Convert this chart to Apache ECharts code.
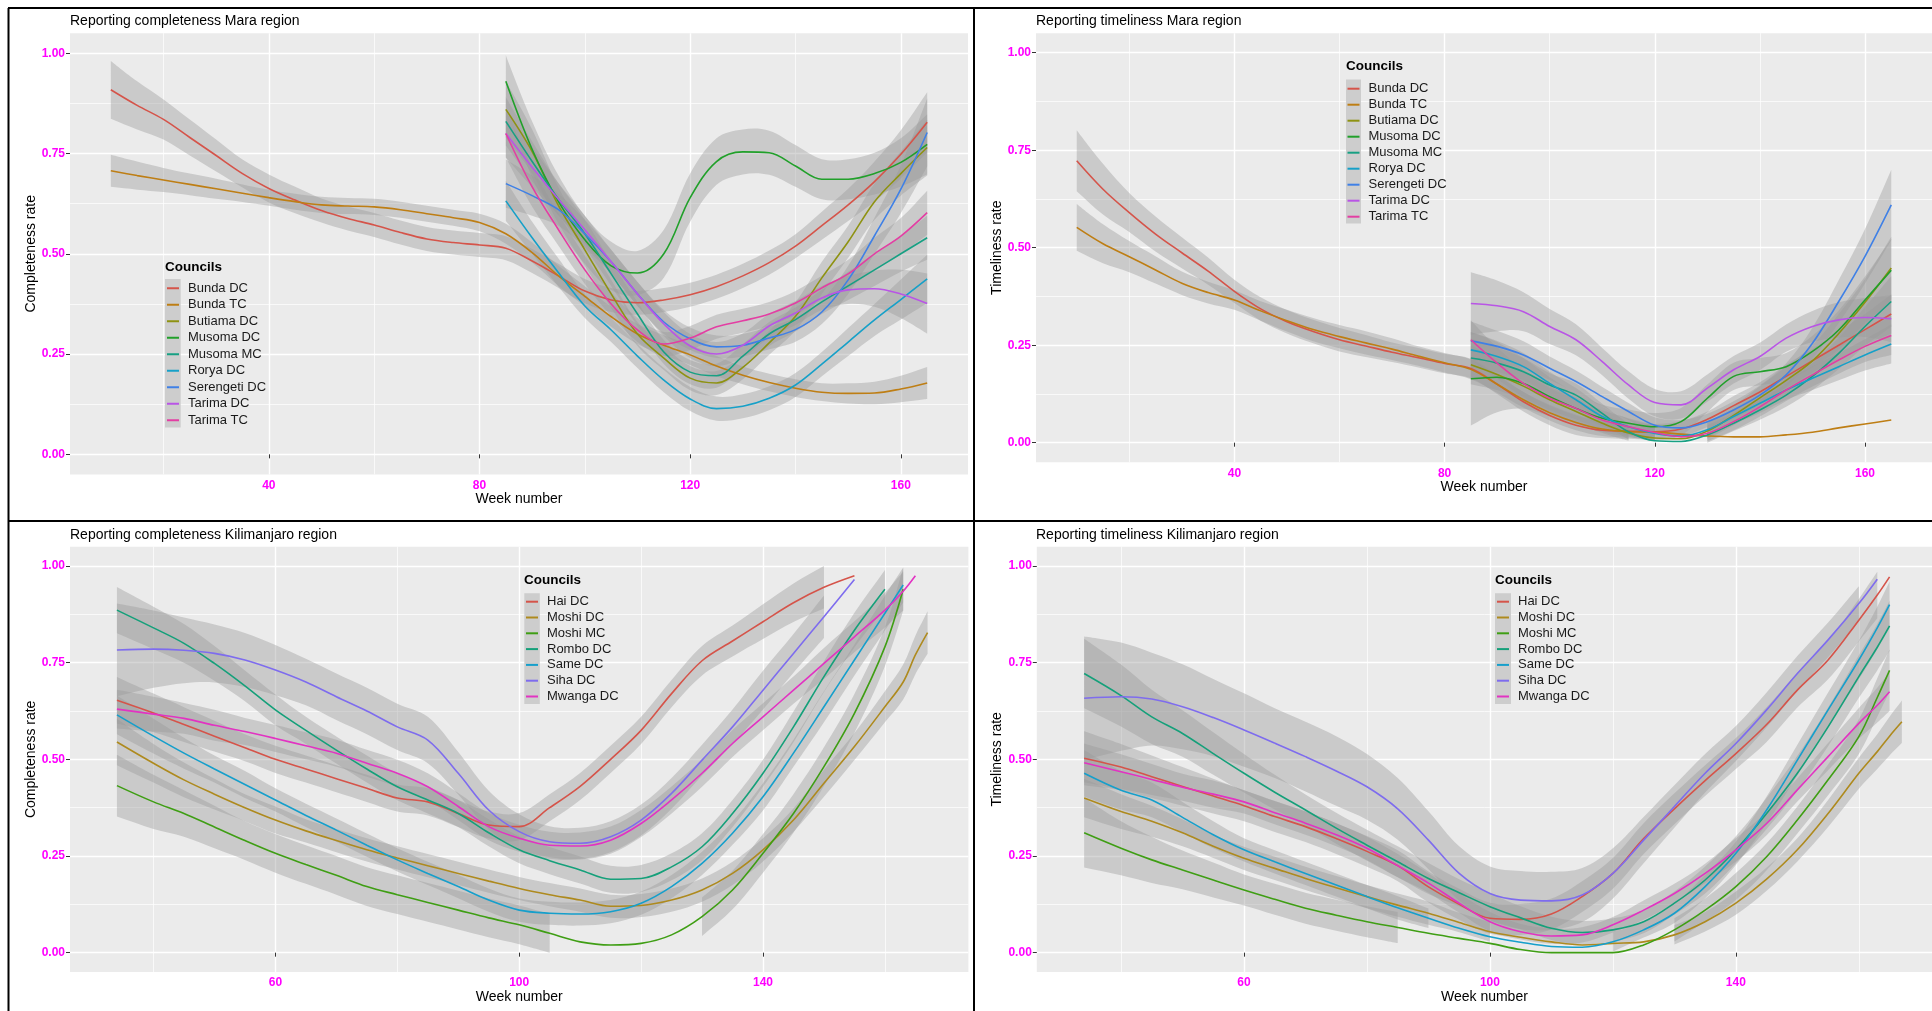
<!DOCTYPE html>
<html>
<head>
<meta charset="utf-8">
<title>Reporting completeness and timeliness</title>
<script src="https://cdn.jsdelivr.net/npm/echarts@6.0.0/dist/echarts.min.js"></script>
<style>
  html, body { margin: 0; padding: 0; background: #fff; }
  #chart { width: 1932px; height: 1011px; }
</style>
</head>
<body>
<div id="chart"></div>
<script>
// councils and colours
var maraCouncils = ['Bunda DC', 'Bunda TC', 'Butiama DC', 'Musoma DC', 'Musoma MC', 'Rorya DC', 'Serengeti DC', 'Tarima DC', 'Tarima TC'];
var kiliCouncils = ['Hai DC', 'Moshi DC', 'Moshi MC', 'Rombo DC', 'Same DC', 'Siha DC', 'Mwanga DC'];
var maraColors = ['#D5544A', '#BE7E14', '#8E9212', '#21A02A', '#17A083', '#16A0C8', '#3F80E6', '#B955E6', '#E33EA3'];
var kiliColors = ['#D5544A', '#AE8A1E', '#3F9E14', '#15A07A', '#169FCB', '#7E6CEE', '#E233C2'];

// week numbers
var maraWeeks = [10, 15, 20, 25, 30, 35, 40, 45, 50, 55, 60, 65, 70, 75, 80, 85, 90, 95, 100, 105, 110, 115, 120, 125, 130, 135, 140, 145, 150, 155, 160, 165];
var maraStart = [10, 10, 85, 85, 85, 85, 85, 85, 85];
var kiliWeeks = [34, 40, 45, 50, 55, 60, 65, 70, 75, 80, 85, 90, 95, 100, 105, 110, 115, 120, 125, 130, 135, 140, 145, 150, 155, 160, 163, 165, 167];
var kiliStart = [34, 34, 34, 34, 34, 34, 34];

// tick labels
var rateTicks = [0, 0.25, 0.5, 0.75, 1];
var rateMinor = [0.125, 0.375, 0.625, 0.875];
var maraWeekTicks = [40, 80, 120, 160];
var maraWeekMinor = [20, 60, 100, 140];
var kiliWeekTicks = [60, 100, 140];
var kiliWeekMinor = [40, 80, 120, 160];

// smoothed rates (one row per council) and half width of the grey band
var maraCompRate = [
  [0.909, 0.87, 0.835, 0.79, 0.745, 0.70, 0.663, 0.634, 0.608, 0.588, 0.572, 0.553, 0.537, 0.528, 0.522, 0.514, 0.482, 0.445, 0.407, 0.385, 0.378, 0.385, 0.398, 0.418, 0.445, 0.478, 0.519, 0.57, 0.622, 0.68, 0.748, 0.828],
  [0.707, 0.695, 0.684, 0.673, 0.662, 0.651, 0.64, 0.63, 0.622, 0.619, 0.617, 0.61, 0.60, 0.59, 0.578, 0.55, 0.503, 0.445, 0.394, 0.343, 0.30, 0.272, 0.248, 0.22, 0.197, 0.179, 0.165, 0.155, 0.152, 0.153, 0.163, 0.178],
  [0.86, 0.755, 0.62, 0.51, 0.40, 0.30, 0.24, 0.19, 0.178, 0.217, 0.278, 0.344, 0.44, 0.53, 0.63, 0.70, 0.765],
  [0.93, 0.76, 0.63, 0.535, 0.47, 0.452, 0.50, 0.64, 0.73, 0.754, 0.752, 0.719, 0.686, 0.686, 0.70, 0.728, 0.773],
  [0.83, 0.73, 0.636, 0.55, 0.45, 0.35, 0.255, 0.205, 0.196, 0.245, 0.30, 0.336, 0.38, 0.42, 0.46, 0.50, 0.54],
  [0.632, 0.54, 0.453, 0.37, 0.31, 0.245, 0.185, 0.138, 0.114, 0.12, 0.14, 0.173, 0.225, 0.28, 0.335, 0.386, 0.4375],
  [0.675, 0.645, 0.61, 0.55, 0.48, 0.40, 0.33, 0.288, 0.268, 0.272, 0.29, 0.311, 0.355, 0.435, 0.545, 0.661, 0.8025],
  [0.80, 0.716, 0.636, 0.56, 0.48, 0.40, 0.325, 0.27, 0.25, 0.272, 0.32, 0.3525, 0.39, 0.41, 0.413, 0.40, 0.376],
  [0.80, 0.667, 0.56, 0.46, 0.375, 0.31, 0.275, 0.29, 0.318, 0.333, 0.35, 0.3775, 0.415, 0.45, 0.50, 0.544, 0.6025]
];
var maraCompBand = [
  [0.072, 0.06, 0.05, 0.045, 0.04, 0.035, 0.035, 0.033, 0.03, 0.03, 0.03, 0.03, 0.03, 0.03, 0.03, 0.03, 0.03, 0.03, 0.03, 0.03, 0.03, 0.03, 0.03, 0.03, 0.03, 0.03, 0.03, 0.035, 0.04, 0.05, 0.06, 0.075],
  [0.04, 0.035, 0.03, 0.027, 0.025, 0.022, 0.02, 0.02, 0.02, 0.02, 0.02, 0.02, 0.02, 0.02, 0.022, 0.025, 0.025, 0.025, 0.025, 0.025, 0.025, 0.025, 0.025, 0.025, 0.022, 0.022, 0.022, 0.022, 0.025, 0.028, 0.033, 0.04],
  [0.07, 0.055, 0.045, 0.04, 0.035, 0.03, 0.03, 0.03, 0.03, 0.03, 0.03, 0.035, 0.04, 0.04, 0.045, 0.055, 0.07],
  [0.065, 0.07, 0.065, 0.06, 0.06, 0.055, 0.06, 0.06, 0.058, 0.056, 0.055, 0.052, 0.05, 0.05, 0.052, 0.06, 0.075],
  [0.06, 0.05, 0.04, 0.035, 0.03, 0.03, 0.03, 0.03, 0.03, 0.03, 0.03, 0.03, 0.03, 0.035, 0.04, 0.045, 0.055],
  [0.05, 0.04, 0.035, 0.03, 0.03, 0.03, 0.03, 0.03, 0.03, 0.03, 0.03, 0.03, 0.03, 0.035, 0.04, 0.05, 0.06],
  [0.06, 0.05, 0.04, 0.035, 0.03, 0.03, 0.03, 0.028, 0.028, 0.028, 0.028, 0.03, 0.03, 0.035, 0.045, 0.06, 0.085],
  [0.06, 0.05, 0.04, 0.035, 0.03, 0.03, 0.03, 0.03, 0.03, 0.03, 0.03, 0.03, 0.03, 0.035, 0.045, 0.06, 0.075],
  [0.06, 0.05, 0.04, 0.035, 0.03, 0.03, 0.03, 0.03, 0.03, 0.03, 0.03, 0.03, 0.03, 0.035, 0.04, 0.045, 0.055]
];
var maraTimeRate = [
  [0.723, 0.65, 0.59, 0.535, 0.487, 0.44, 0.388, 0.343, 0.31, 0.285, 0.264, 0.248, 0.232, 0.218, 0.203, 0.19, 0.15, 0.105, 0.07, 0.045, 0.032, 0.03, 0.028, 0.035, 0.06, 0.095, 0.13, 0.17, 0.21, 0.25, 0.29, 0.33],
  [0.552, 0.51, 0.477, 0.443, 0.409, 0.385, 0.366, 0.338, 0.313, 0.29, 0.272, 0.256, 0.24, 0.222, 0.205, 0.188, 0.15, 0.11, 0.077, 0.052, 0.035, 0.028, 0.027, 0.022, 0.017, 0.015, 0.015, 0.02, 0.027, 0.038, 0.048, 0.058],
  [0.2, 0.175, 0.145, 0.11, 0.08, 0.05, 0.025, 0.012, 0.01, 0.03, 0.07, 0.115, 0.16, 0.21, 0.28, 0.36, 0.448],
  [0.164, 0.168, 0.152, 0.118, 0.088, 0.0625, 0.05, 0.041, 0.054, 0.114, 0.17, 0.182, 0.195, 0.234, 0.289, 0.366, 0.442],
  [0.217, 0.204, 0.182, 0.148, 0.122, 0.075, 0.028, 0.005, 0.003, 0.02, 0.05, 0.084, 0.122, 0.17, 0.229, 0.298, 0.362],
  [0.238, 0.221, 0.195, 0.152, 0.11, 0.067, 0.041, 0.024, 0.017, 0.033, 0.067, 0.101, 0.135, 0.165, 0.195, 0.225, 0.253],
  [0.261, 0.247, 0.225, 0.191, 0.157, 0.118, 0.08, 0.045, 0.038, 0.054, 0.084, 0.122, 0.174, 0.255, 0.362, 0.478, 0.61],
  [0.357, 0.351, 0.336, 0.298, 0.264, 0.208, 0.148, 0.103, 0.097, 0.14, 0.187, 0.221, 0.268, 0.298, 0.315, 0.321, 0.318],
  [0.264, 0.204, 0.152, 0.114, 0.088, 0.058, 0.041, 0.026, 0.015, 0.024, 0.054, 0.092, 0.135, 0.174, 0.212, 0.247, 0.275]
];
var maraTimeBand = [
  [0.078, 0.065, 0.05, 0.045, 0.04, 0.035, 0.03, 0.03, 0.03, 0.03, 0.03, 0.028, 0.025, 0.025, 0.025, 0.025, 0.025, 0.025, 0.025, 0.025, 0.02, 0.02, 0.02, 0.02, 0.02, 0.025, 0.025, 0.03, 0.03, 0.035, 0.04, 0.05],
  [0.06, 0.05, 0.04, 0.035, 0.03, 0.028, 0.025, 0.025, 0.028, 0.03, 0.03, 0.03, 0.028, 0.025, 0.025, 0.025, 0.022, 0.02, 0.02, 0.02, 0.018, 0.015, 0.015, 0.025, 0.02, 0.02, 0.02, 0.025, 0.03, 0.04, 0.05, 0.06],
  [0.05, 0.04, 0.035, 0.03, 0.03, 0.025, 0.02, 0.015, 0.015, 0.02, 0.025, 0.03, 0.035, 0.04, 0.05, 0.06, 0.08],
  [0.12, 0.09, 0.065, 0.05, 0.04, 0.035, 0.035, 0.035, 0.035, 0.035, 0.035, 0.035, 0.035, 0.04, 0.05, 0.06, 0.08],
  [0.05, 0.04, 0.035, 0.03, 0.03, 0.025, 0.02, 0.02, 0.02, 0.02, 0.02, 0.025, 0.03, 0.035, 0.04, 0.05, 0.065],
  [0.045, 0.04, 0.035, 0.03, 0.03, 0.025, 0.02, 0.02, 0.02, 0.02, 0.02, 0.025, 0.025, 0.03, 0.035, 0.04, 0.05],
  [0.05, 0.04, 0.035, 0.03, 0.028, 0.025, 0.022, 0.02, 0.02, 0.02, 0.022, 0.025, 0.03, 0.04, 0.055, 0.07, 0.09],
  [0.08, 0.065, 0.05, 0.045, 0.04, 0.035, 0.035, 0.035, 0.035, 0.035, 0.035, 0.035, 0.035, 0.04, 0.045, 0.05, 0.06],
  [0.05, 0.04, 0.035, 0.03, 0.028, 0.025, 0.022, 0.02, 0.02, 0.02, 0.022, 0.025, 0.028, 0.03, 0.035, 0.04, 0.05]
];
var kiliCompRate = [
  [0.653, 0.62, 0.59, 0.56, 0.53, 0.50, 0.475, 0.45, 0.425, 0.40, 0.39, 0.36, 0.33, 0.326, 0.375, 0.43, 0.50, 0.575, 0.67, 0.755, 0.806, 0.856, 0.905, 0.945, 0.975],
  [0.545, 0.49, 0.447, 0.41, 0.375, 0.343, 0.315, 0.29, 0.266, 0.245, 0.225, 0.205, 0.185, 0.166, 0.15, 0.136, 0.12, 0.122, 0.136, 0.162, 0.205, 0.266, 0.343, 0.438, 0.533, 0.636, 0.70, 0.77, 0.828],
  [0.432, 0.39, 0.36, 0.325, 0.29, 0.257, 0.228, 0.2, 0.171, 0.15, 0.13, 0.11, 0.09, 0.072, 0.05, 0.028, 0.02, 0.024, 0.046, 0.093, 0.162, 0.257, 0.36, 0.481, 0.619, 0.791, 0.94],
  [0.886, 0.84, 0.80, 0.748, 0.69, 0.628, 0.575, 0.524, 0.475, 0.429, 0.395, 0.36, 0.31, 0.266, 0.238, 0.214, 0.19, 0.192, 0.222, 0.274, 0.36, 0.464, 0.584, 0.714, 0.834, 0.94],
  [0.615, 0.56, 0.516, 0.475, 0.435, 0.395, 0.355, 0.317, 0.278, 0.24, 0.205, 0.171, 0.136, 0.11, 0.102, 0.10, 0.106, 0.128, 0.171, 0.231, 0.309, 0.403, 0.516, 0.636, 0.757, 0.878, 0.951],
  [0.783, 0.785, 0.782, 0.774, 0.757, 0.731, 0.70, 0.662, 0.625, 0.584, 0.55, 0.464, 0.369, 0.313, 0.287, 0.283, 0.30, 0.343, 0.412, 0.498, 0.584, 0.679, 0.774, 0.869, 0.965],
  [0.63, 0.617, 0.606, 0.588, 0.572, 0.554, 0.535, 0.516, 0.49, 0.464, 0.429, 0.378, 0.326, 0.296, 0.278, 0.276, 0.291, 0.334, 0.395, 0.464, 0.541, 0.61, 0.679, 0.748, 0.817, 0.886, 0.935, 0.975]
];
var kiliCompBand = [
  [0.06, 0.05, 0.045, 0.04, 0.035, 0.035, 0.035, 0.035, 0.035, 0.035, 0.035, 0.035, 0.035, 0.035, 0.035, 0.035, 0.035, 0.035, 0.035, 0.038, 0.04, 0.045, 0.05, 0.055, 0.06],
  [0.06, 0.05, 0.045, 0.04, 0.035, 0.035, 0.03, 0.03, 0.03, 0.03, 0.03, 0.03, 0.03, 0.03, 0.03, 0.03, 0.03, 0.03, 0.03, 0.03, 0.03, 0.03, 0.03, 0.035, 0.035, 0.04, 0.045, 0.05, 0.055],
  [0.08, 0.07, 0.06, 0.055, 0.05, 0.05, 0.05, 0.05, 0.05, 0.05, 0.05, 0.05, 0.05, 0.05, 0.05, 0.05, 0.05, 0.05, 0.05, 0.05, 0.05, 0.05, 0.05, 0.05, 0.05, 0.05, 0.055],
  [0.06, 0.055, 0.05, 0.045, 0.04, 0.04, 0.035, 0.035, 0.035, 0.035, 0.035, 0.035, 0.035, 0.035, 0.035, 0.035, 0.035, 0.035, 0.035, 0.035, 0.035, 0.035, 0.04, 0.04, 0.045, 0.05],
  [0.05, 0.045, 0.04, 0.035, 0.035, 0.03, 0.03, 0.03, 0.03, 0.03, 0.03, 0.03, 0.03, 0.03, 0.03, 0.03, 0.03, 0.03, 0.03, 0.03, 0.03, 0.035, 0.035, 0.04, 0.04, 0.045, 0.045],
  [0.12, 0.1, 0.085, 0.075, 0.07, 0.065, 0.06, 0.06, 0.06, 0.06, 0.06, 0.055, 0.05, 0.045, 0.04, 0.04, 0.04, 0.04, 0.04, 0.04, 0.045, 0.05, 0.05, 0.055, 0.06],
  [0.05, 0.045, 0.04, 0.04, 0.035, 0.035, 0.035, 0.035, 0.035, 0.035, 0.035, 0.035, 0.035, 0.035, 0.035, 0.035, 0.035, 0.035, 0.035, 0.035, 0.035, 0.035, 0.035, 0.04, 0.04, 0.045, 0.05, 0.055]
];
var kiliTimeRate = [
  [0.503, 0.48, 0.455, 0.43, 0.405, 0.38, 0.352, 0.326, 0.295, 0.262, 0.225, 0.17, 0.125, 0.089, 0.086, 0.10, 0.145, 0.205, 0.295, 0.372, 0.445, 0.515, 0.59, 0.679, 0.757, 0.86, 0.925, 0.972],
  [0.40, 0.365, 0.34, 0.31, 0.275, 0.244, 0.218, 0.192, 0.168, 0.145, 0.123, 0.102, 0.078, 0.054, 0.04, 0.028, 0.02, 0.024, 0.028, 0.046, 0.08, 0.128, 0.19, 0.266, 0.36, 0.464, 0.52, 0.56, 0.597],
  [0.31, 0.27, 0.24, 0.214, 0.188, 0.162, 0.138, 0.115, 0.097, 0.08, 0.065, 0.05, 0.037, 0.024, 0.008, 0.0, 0.0, 0.0, 0.02, 0.059, 0.11, 0.171, 0.248, 0.343, 0.447, 0.559, 0.66, 0.73],
  [0.722, 0.665, 0.61, 0.567, 0.515, 0.464, 0.415, 0.369, 0.322, 0.278, 0.235, 0.192, 0.155, 0.119, 0.09, 0.063, 0.052, 0.059, 0.08, 0.128, 0.188, 0.266, 0.36, 0.464, 0.584, 0.714, 0.79, 0.845],
  [0.464, 0.42, 0.395, 0.35, 0.305, 0.266, 0.235, 0.205, 0.175, 0.145, 0.116, 0.089, 0.063, 0.041, 0.027, 0.016, 0.014, 0.028, 0.059, 0.102, 0.171, 0.257, 0.369, 0.498, 0.628, 0.757, 0.84, 0.9],
  [0.658, 0.662, 0.656, 0.636, 0.608, 0.576, 0.542, 0.507, 0.47, 0.429, 0.372, 0.291, 0.205, 0.153, 0.136, 0.134, 0.149, 0.205, 0.291, 0.378, 0.464, 0.541, 0.628, 0.722, 0.809, 0.903, 0.966],
  [0.491, 0.468, 0.448, 0.428, 0.41, 0.39, 0.362, 0.335, 0.305, 0.27, 0.225, 0.18, 0.128, 0.08, 0.054, 0.043, 0.046, 0.072, 0.11, 0.153, 0.205, 0.266, 0.334, 0.421, 0.507, 0.593, 0.64, 0.675]
];
var kiliTimeBand = [
  [0.07, 0.06, 0.055, 0.05, 0.045, 0.04, 0.04, 0.04, 0.04, 0.04, 0.04, 0.04, 0.04, 0.04, 0.04, 0.04, 0.04, 0.04, 0.04, 0.04, 0.04, 0.04, 0.045, 0.045, 0.05, 0.055, 0.06, 0.065],
  [0.05, 0.045, 0.04, 0.035, 0.03, 0.03, 0.03, 0.03, 0.03, 0.03, 0.03, 0.03, 0.025, 0.025, 0.045, 0.03, 0.025, 0.03, 0.03, 0.025, 0.025, 0.03, 0.03, 0.03, 0.035, 0.04, 0.045, 0.05, 0.055],
  [0.09, 0.07, 0.06, 0.05, 0.045, 0.04, 0.04, 0.04, 0.04, 0.04, 0.04, 0.055, 0.04, 0.03, 0.03, 0.03, 0.03, 0.03, 0.03, 0.03, 0.03, 0.035, 0.035, 0.035, 0.04, 0.045, 0.05, 0.055],
  [0.09, 0.08, 0.07, 0.06, 0.055, 0.05, 0.045, 0.04, 0.04, 0.04, 0.04, 0.04, 0.035, 0.035, 0.03, 0.03, 0.03, 0.03, 0.03, 0.03, 0.035, 0.035, 0.04, 0.045, 0.05, 0.055, 0.06, 0.065],
  [0.06, 0.05, 0.045, 0.04, 0.035, 0.03, 0.03, 0.03, 0.03, 0.03, 0.03, 0.025, 0.065, 0.045, 0.03, 0.02, 0.015, 0.025, 0.02, 0.025, 0.03, 0.03, 0.035, 0.04, 0.045, 0.05, 0.055, 0.06],
  [0.16, 0.14, 0.12, 0.11, 0.1, 0.095, 0.09, 0.09, 0.09, 0.085, 0.08, 0.075, 0.07, 0.07, 0.075, 0.075, 0.07, 0.065, 0.06, 0.055, 0.05, 0.045, 0.045, 0.045, 0.045, 0.045, 0.05],
  [0.05, 0.045, 0.04, 0.035, 0.035, 0.03, 0.03, 0.03, 0.03, 0.03, 0.03, 0.025, 0.025, 0.025, 0.02, 0.02, 0.02, 0.02, 0.025, 0.025, 0.025, 0.03, 0.03, 0.03, 0.035, 0.04, 0.045, 0.05]
];

// panel layout
var panels = [
  { title: 'Reporting completeness Mara region', yName: 'Completeness rate', councils: maraCouncils, colors: maraColors,
    weeks: maraWeeks, start: maraStart, rate: maraCompRate, band: maraCompBand, xTicks: maraWeekTicks, xMinor: maraWeekMinor,
    xRange: [2.25, 172.75], grid: [70, 33.2, 898, 441.2], titleAt: [70, 12.7],
    keyTitleAt: [165, 259.3], legendAt: [167, 280, 16.5], keyBox: [165, 279, 15.7, 148.5] },
  { title: 'Reporting timeliness Mara region', yName: 'Timeliness rate', councils: maraCouncils, colors: maraColors,
    weeks: maraWeeks, start: maraStart, rate: maraTimeRate, band: maraTimeBand, xTicks: maraWeekTicks, xMinor: maraWeekMinor,
    xRange: [2.25, 172.75], grid: [1036, 33.2, 896, 429], titleAt: [1036, 12.7],
    keyTitleAt: [1346, 58.7], legendAt: [1347.5, 80.7, 16], keyBox: [1346, 79.5, 15, 144] },
  { title: 'Reporting completeness Kilimanjaro region', yName: 'Completeness rate', councils: kiliCouncils, colors: kiliColors,
    weeks: kiliWeeks, start: kiliStart, rate: kiliCompRate, band: kiliCompBand, xTicks: kiliWeekTicks, xMinor: kiliWeekMinor,
    xRange: [26.3, 173.7], grid: [70, 546.7, 898.4, 425.3], titleAt: [70, 527],
    keyTitleAt: [524, 572.7], legendAt: [526, 593.8, 15.8], keyBox: [524.3, 593.3, 15.5, 110.6] },
  { title: 'Reporting timeliness Kilimanjaro region', yName: 'Timeliness rate', councils: kiliCouncils, colors: kiliColors,
    weeks: kiliWeeks, start: kiliStart, rate: kiliTimeRate, band: kiliTimeBand, xTicks: kiliWeekTicks, xMinor: kiliWeekMinor,
    xRange: [26.3, 171.9], grid: [1036.8, 546.7, 895.2, 425.3], titleAt: [1036, 527],
    keyTitleAt: [1495, 572.7], legendAt: [1497, 593.8, 15.8], keyBox: [1495, 593.3, 16, 110.6] }
];

var bandFill = 'rgba(153,153,153,0.4)';
var smoothness = 0.35;
var fontFamily = '"Liberation Sans", Arial, sans-serif';

// same bezier rule the line series uses, so band edges follow the lines
function smoothPath(pts, s, cmd) {
  var d = cmd + pts[0][0] + ' ' + pts[0][1];
  var cp0 = pts[0];
  for (var i = 1; i < pts.length; i++) {
    var prev = pts[i - 1], cur = pts[i], next = pts[i + 1] || cur;
    var vx = next[0] - prev[0], vy = next[1] - prev[1];
    var d0 = Math.hypot(cur[0] - prev[0], cur[1] - prev[1]);
    var d1 = Math.hypot(next[0] - cur[0], next[1] - cur[1]);
    var r = d0 + d1 > 0 ? d1 / (d0 + d1) : 0;
    var cp1 = [cur[0] - vx * s * (1 - r), cur[1] - vy * s * (1 - r)];
    d += ' C' + cp0[0] + ' ' + cp0[1] + ' ' + cp1[0] + ' ' + cp1[1] + ' ' + cur[0] + ' ' + cur[1];
    cp0 = [cur[0] + vx * s * r, cur[1] + vy * s * r];
  }
  return d;
}

function bandRenderer(rows) {
  // rows: [week, low, high]; points outside 0..1 are dropped, which cuts the band
  var runs = [], run = [];
  rows.forEach(function (q) {
    if (q[1] >= -1e-9 && q[2] <= 1 + 1e-9) {
      run.push(q);
    } else {
      if (run.length) runs.push(run);
      run = [];
    }
  });
  if (run.length) runs.push(run);
  return function (params, api) {
    if (params.dataIndex !== 0) return null;
    var children = [];
    runs.forEach(function (r) {
      if (r.length < 2) return;
      var up = r.map(function (q) { return api.coord([q[0], q[2]]); });
      var low = r.map(function (q) { return api.coord([q[0], q[1]]); }).reverse();
      children.push({
        type: 'path',
        shape: { pathData: smoothPath(up, smoothness, 'M') + ' ' + smoothPath(low, smoothness, 'L') + ' Z' },
        style: { fill: bandFill, stroke: null }
      });
    });
    return { type: 'group', children: children };
  };
}

var grids = [], xAxes = [], yAxes = [], series = [], titles = [], legends = [], graphics = [];

panels.forEach(function (p, gi) {
  grids.push({
    left: p.grid[0], top: p.grid[1], width: p.grid[2], height: p.grid[3],
    show: true, backgroundColor: '#EBEBEB', borderWidth: 0, outerBoundsMode: 'none'
  });

  // major axes carry labels, minor axes only the thin grid lines
  xAxes.push({
    type: 'value', gridIndex: gi, min: p.xRange[0], max: p.xRange[1],
    name: 'Week number', nameLocation: 'middle', nameGap: 18,
    nameTextStyle: { fontSize: 14, color: '#000', fontFamily: fontFamily },
    axisLine: { show: false },
    axisTick: { show: true, length: 4, lineStyle: { color: '#333', width: 1 }, customValues: p.xTicks },
    axisLabel: { customValues: p.xTicks, color: '#FF00FF', fontWeight: 'bold', fontSize: 12, margin: 5, fontFamily: fontFamily },
    splitLine: { show: true, lineStyle: { color: '#FFFFFF', width: 1.4 } }
  });
  xAxes.push({
    type: 'value', gridIndex: gi, min: p.xRange[0], max: p.xRange[1], position: 'bottom',
    axisLine: { show: false },
    axisTick: { show: false, customValues: p.xMinor },
    axisLabel: { show: false, customValues: p.xMinor },
    splitLine: { show: true, lineStyle: { color: '#FFFFFF', width: 0.7 } }
  });
  yAxes.push({
    type: 'value', gridIndex: gi, min: -0.05, max: 1.05,
    name: p.yName, nameLocation: 'middle', nameGap: 24,
    nameTextStyle: { fontSize: 14, color: '#000', fontFamily: fontFamily },
    axisLine: { show: false },
    axisTick: { show: true, length: 4, lineStyle: { color: '#333', width: 1 }, customValues: rateTicks },
    axisLabel: {
      customValues: rateTicks, color: '#FF00FF', fontWeight: 'bold', fontSize: 12, margin: 5, fontFamily: fontFamily,
      formatter: function (v) { return v.toFixed(2); }
    },
    splitLine: { show: true, lineStyle: { color: '#FFFFFF', width: 1.4 } }
  });
  yAxes.push({
    type: 'value', gridIndex: gi, min: -0.05, max: 1.05, position: 'left',
    axisLine: { show: false },
    axisTick: { show: false, customValues: rateMinor },
    axisLabel: { show: false, customValues: rateMinor },
    splitLine: { show: true, lineStyle: { color: '#FFFFFF', width: 0.7 } }
  });

  // band then line for each council, in the order geom_smooth draws them
  p.councils.forEach(function (name, i) {
    var vals = p.rate[i];
    var se = p.band[i];
    var s0 = p.weeks.indexOf(p.start[i]);
    var wk = p.weeks.slice(s0, s0 + vals.length);
    var rows = wk.map(function (w, k) { return [w, vals[k] - se[k], vals[k] + se[k]]; });
    series.push({
      type: 'custom', xAxisIndex: gi * 2, yAxisIndex: gi * 2,
      data: rows, encode: { x: 0, y: [1, 2] },
      renderItem: bandRenderer(rows), clip: true, silent: true, animation: false
    });
    series.push({
      type: 'line', name: name, xAxisIndex: gi * 2, yAxisIndex: gi * 2,
      data: wk.map(function (w, k) { return [w, vals[k]]; }),
      symbol: 'none', smooth: smoothness, color: p.colors[i],
      lineStyle: { color: p.colors[i], width: 1.6 }, itemStyle: { color: p.colors[i] },
      silent: true, animation: false
    });
  });

  titles.push({
    text: p.title, left: p.titleAt[0], top: p.titleAt[1], padding: 0,
    textStyle: { fontSize: 14, fontWeight: 'normal', color: '#000', lineHeight: 16, fontFamily: fontFamily }
  });
  titles.push({
    text: 'Councils', left: p.keyTitleAt[0], top: p.keyTitleAt[1], padding: 0,
    textStyle: { fontSize: 13.5, fontWeight: 'bold', color: '#000', lineHeight: 16, fontFamily: fontFamily }
  });

  legends.push({
    data: p.councils, orient: 'vertical', left: p.legendAt[0], top: p.legendAt[1],
    padding: 0, itemWidth: 12, itemHeight: 2, itemGap: 0, icon: 'rect', selectedMode: false, z: 6,
    itemStyle: { borderWidth: 0 },
    textStyle: { fontSize: 13, color: '#1a1a1a', lineHeight: p.legendAt[2], padding: [0, 0, 0, 4], fontFamily: fontFamily }
  });

  graphics.push({
    type: 'rect', z: 5, silent: true,
    shape: { x: p.keyBox[0], y: p.keyBox[1], width: p.keyBox[2], height: p.keyBox[3] },
    style: { fill: '#CDCDCD' }
  });
});

// frame lines around the four plots
[[8, 8, 1932, 8], [8.5, 8, 8.5, 1011], [974, 8, 974, 1011], [8, 521, 1932, 521]].forEach(function (l) {
  graphics.push({
    type: 'line', z: 10, silent: true,
    shape: { x1: l[0], y1: l[1], x2: l[2], y2: l[3] },
    style: { stroke: '#000', lineWidth: 2 }
  });
});

var chart = echarts.init(document.getElementById('chart'), null, { renderer: 'canvas' });
chart.setOption({
  animation: false,
  backgroundColor: '#FFFFFF',
  textStyle: { fontFamily: fontFamily },
  title: titles,
  legend: legends,
  grid: grids,
  xAxis: xAxes,
  yAxis: yAxes,
  graphic: graphics,
  series: series
});
</script>
</body>
</html>
